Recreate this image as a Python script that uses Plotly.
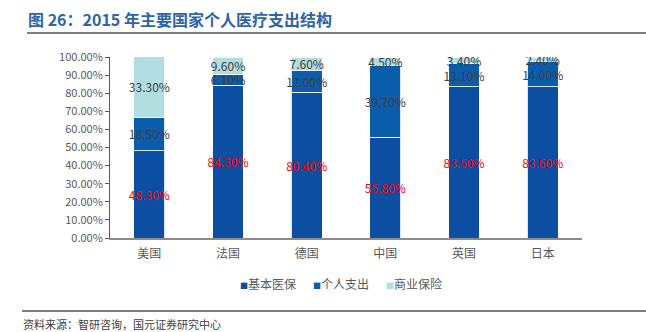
import plotly.graph_objects as go

countries = ["美国", "法国", "德国", "中国", "英国", "日本"]
basic_insurance = [48.30, 84.30, 80.40, 55.80, 83.50, 83.60]
out_of_pocket = [18.50, 6.10, 12.00, 39.70, 13.10, 14.00]
commercial = [33.30, 9.60, 7.60, 4.50, 3.40, 2.40]
y_ticks = [0, 10, 20, 30, 40, 50, 60, 70, 80, 90, 100]

FONT = "Noto Sans CJK SC"
W, H = 646, 332
L, R, T, B = 110, 64, 57, 94
pw, ph = W - L - R, H - T - B


def px(x):
    return (x - L) / pw


def py(y):
    return (H - B - y) / ph


series = [
    ("基本医保", basic_insurance, "#0B4EA2", "#FF0000"),
    ("个人支出", out_of_pocket, "#0A5DAC", "#404040"),
    ("商业保险", commercial, "#B2DDE1", "#404040"),
]

fig = go.Figure()
for name, vals, color, tcolor in series:
    fig.add_trace(go.Bar(
        x=countries, y=vals, name=name,
        marker=dict(color=color, line=dict(color="rgba(255,255,255,0.85)", width=1)),
        text=[f"{v:.2f}%" for v in vals],
        textposition="inside", insidetextanchor="middle", textangle=0,
        textfont=dict(family=FONT, size=12, color=tcolor),
        constraintext="none",
        width=0.39,
        showlegend=False,
    ))

# compact legend: small coloured square followed by the series name
legend_x = [238, 311, 384]
for (name, _, color, _), lx in zip(series, legend_x):
    fig.add_annotation(
        text=f"<span style='font-size:8px;color:{color}'>■</span>{name}",
        xref="paper", yref="paper", x=px(lx), y=py(283),
        xanchor="left", yanchor="middle", showarrow=False,
        font=dict(family=FONT, size=12, color="#595959"))

fig.update_layout(
    barmode="stack",
    width=W, height=H,
    margin=dict(l=L, r=R, t=T, b=B, pad=0),
    paper_bgcolor="white", plot_bgcolor="white",
    font=dict(family=FONT, size=12, color="#595959"),
    uniformtext=dict(minsize=12, mode="show"),
    xaxis=dict(showline=True, linecolor="#8C8C8C", linewidth=2, ticks="",
               ticklabelstandoff=4,
               tickfont=dict(family=FONT, size=12, color="#595959"),
               showgrid=False, fixedrange=True),
    yaxis=dict(range=[0, 100], tickvals=y_ticks,
               ticktext=[f"{v:.2f}%" for v in y_ticks],
               showline=True, linecolor="#595959", linewidth=1,
               ticks="outside", ticklen=4, tickcolor="#595959",
               showgrid=False, zeroline=False,
               tickfont=dict(family=FONT, size=11, color="#595959")),
)

fig.add_annotation(text="<b>图 26：2015 年主要国家个人医疗支出结构</b>",
                   xref="paper", yref="paper", x=px(26), y=py(19),
                   xanchor="left", yanchor="middle", showarrow=False,
                   font=dict(family=FONT, size=16, color="#2F63AA"))
fig.add_annotation(text="资料来源：智研咨询，国元证券研究中心",
                   xref="paper", yref="paper", x=px(21), y=py(324),
                   xanchor="left", yanchor="middle", showarrow=False,
                   font=dict(family=FONT, size=11, color="#404040"))
fig.add_shape(type="line", xref="paper", yref="paper",
              x0=px(27), x1=px(646), y0=py(33), y1=py(33),
              line=dict(color="#7F7F7F", width=2))
fig.add_shape(type="line", xref="paper", yref="paper",
              x0=px(22), x1=px(646), y0=py(311), y1=py(311),
              line=dict(color="#7F7F7F", width=2))

fig.write_html("out.html")
